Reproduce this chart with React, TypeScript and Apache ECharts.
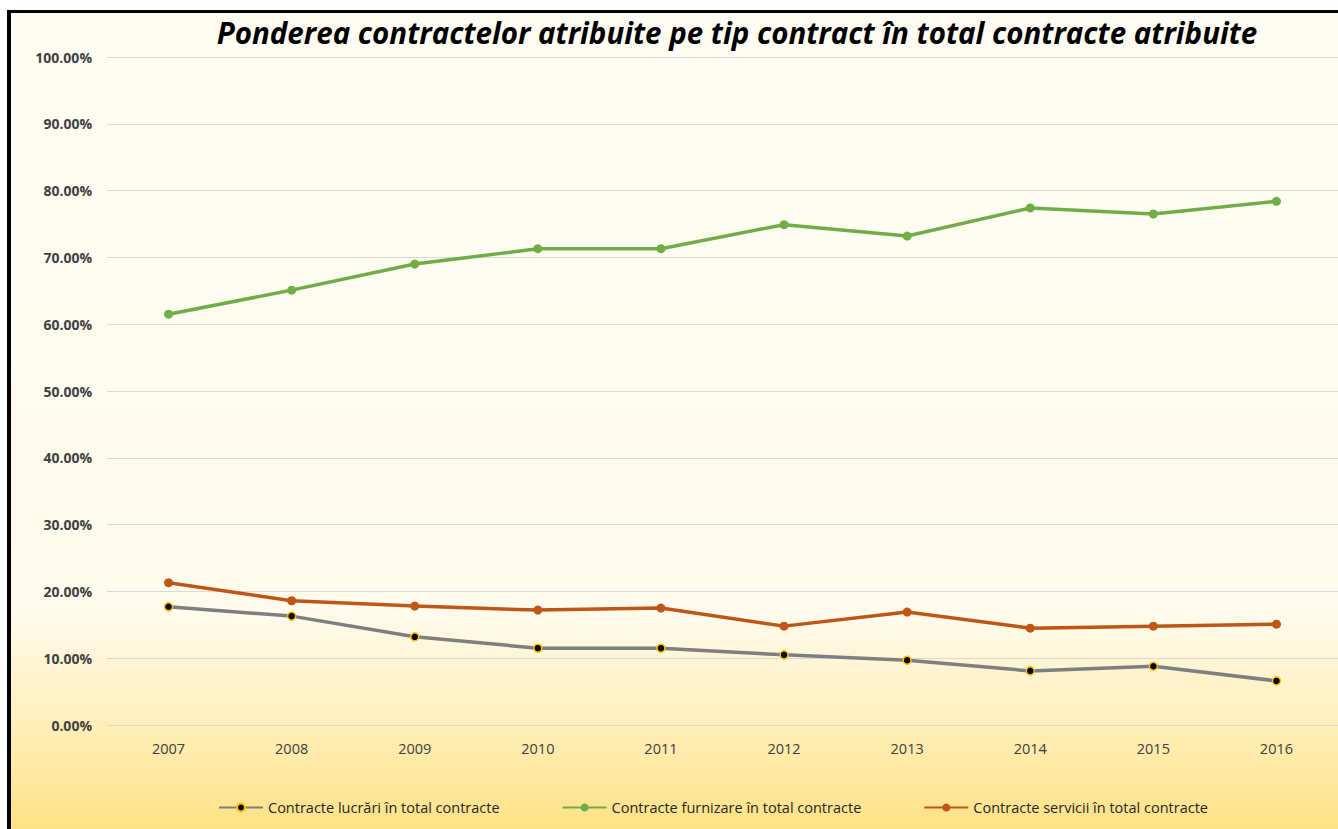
import React, { useEffect, useRef } from "react";
import * as echarts from "echarts";

const years = ["2007", "2008", "2009", "2010", "2011", "2012", "2013", "2014", "2015", "2016"];
const lucrari = [17.7, 16.3, 13.2, 11.5, 11.5, 10.5, 9.7, 8.1, 8.8, 6.6];
const furnizare = [61.5, 65.1, 69.0, 71.3, 71.3, 74.9, 73.2, 77.4, 76.5, 78.4];
const servicii = [21.3, 18.6, 17.8, 17.2, 17.5, 14.8, 16.9, 14.5, 14.8, 15.1];
const seriesNames = [
  "Contracte lucrări în total contracte",
  "Contracte furnizare în total contracte",
  "Contracte servicii în total contracte",
];
const titleText = "Ponderea contractelor atribuite pe tip contract în total contracte atribuite";

const FONT = "'Open Sans', 'Noto Sans', sans-serif";

export default function App() {
  const ref = useRef<HTMLDivElement>(null);
  useEffect(() => {
    if (!ref.current) return;
    const chart = echarts.init(ref.current, null, { renderer: "svg" });
    chart.setOption({
      animation: false,
      backgroundColor: new echarts.graphic.LinearGradient(0, 0, 0, 1, [
        { offset: 0, color: "#FFFDF3" },
        { offset: 0.74, color: "#FFFBED" },
        { offset: 1, color: "#FFE286" },
      ]),
      textStyle: { fontFamily: FONT },
      title: {
        text: titleText,
        left: 732,
        textAlign: "center",
        top: 12,
        textStyle: { fontSize: 29.5, fontWeight: "bold", fontStyle: "italic", color: "#000", fontFamily: FONT },
      },
      graphic: [
        { type: "rect", shape: { x: 0, y: 0, width: 1338, height: 10 }, style: { fill: "#fff" }, z: 100 },
        { type: "rect", shape: { x: 0, y: 0, width: 7, height: 829 }, style: { fill: "#fff" }, z: 100 },
        { type: "rect", shape: { x: 7, y: 10, width: 4, height: 819 }, style: { fill: "#000" }, z: 100 },
        { type: "rect", shape: { x: 7, y: 10, width: 1331, height: 3 }, style: { fill: "#000" }, z: 100 },
      ],
      legend: {
        left: 213,
        top: 795,
        itemWidth: 44,
        itemHeight: 10,
        itemGap: 62,
        textStyle: { fontSize: 14.5, color: "#262626", fontFamily: FONT },
        data: seriesNames,
      },
      grid: { left: 107, right: 0, top: 57, bottom: 104, containLabel: false },
      xAxis: {
        type: "category",
        data: years,
        boundaryGap: true,
        axisLine: { show: true, lineStyle: { color: "#D9D9D9" } },
        axisTick: { show: false },
        axisLabel: { margin: 16, fontSize: 14.5, color: "#404040", fontFamily: FONT },
      },
      yAxis: {
        type: "value",
        min: 0,
        max: 100,
        interval: 10,
        axisLine: { show: false },
        axisTick: { show: false },
        splitLine: { lineStyle: { color: "#D9D9D9", width: 1 } },
        axisLabel: {
          margin: 15,
          fontSize: 14,
          fontWeight: "bold",
          color: "#404040",
          fontFamily: FONT,
          formatter: (v: number) => v.toFixed(2) + "%",
        },
      },
      series: [
        {
          name: seriesNames[0],
          type: "line",
          data: lucrari,
          symbol: "circle",
          symbolSize: 8,
          lineStyle: { color: "#7F7F7F", width: 3.5 },
          itemStyle: { color: "#000", borderColor: "#FFC000", borderWidth: 1.5 },
          z: 3,
        },
        {
          name: seriesNames[1],
          type: "line",
          data: furnizare,
          symbol: "circle",
          symbolSize: 9,
          lineStyle: { color: "#70AD47", width: 3.5 },
          itemStyle: { color: "#70AD47" },
        },
        {
          name: seriesNames[2],
          type: "line",
          data: servicii,
          symbol: "circle",
          symbolSize: 9,
          lineStyle: { color: "#BF5516", width: 3.5 },
          itemStyle: { color: "#BF5516" },
        },
      ],
    });
    return () => chart.dispose();
  }, []);
  return (
    <div
      ref={ref}
      style={{ position: "fixed", left: 0, top: 0, width: 1338, height: 829 }}
    />
  );
}
